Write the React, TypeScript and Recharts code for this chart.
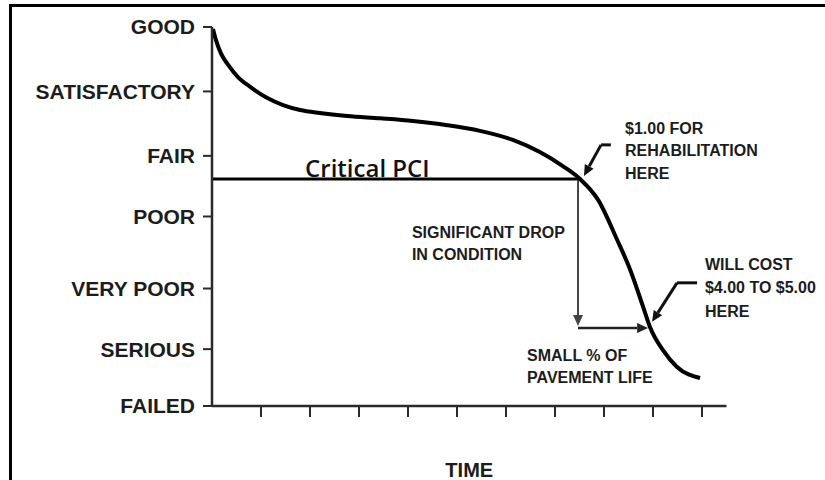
import React from 'react'
import { LineChart, Line, XAxis, YAxis, ReferenceLine, ReferenceDot } from 'recharts'

// curve: time (tick units) vs condition (0 = failed, 100 = good)
const time = [0.02, 0.08, 0.18, 0.33, 0.53, 0.78, 1.12, 1.45, 1.8, 2.2, 2.76, 3.43, 4.1, 4.8, 5.47, 6.14, 6.69, 7.16, 7.51, 7.88, 8.27, 8.53, 8.8, 8.94, 9.2, 9.49, 9.96]
const condition = [99.5, 96.6, 93.1, 90.0, 86.8, 84.2, 81.3, 79.4, 78.1, 77.3, 76.5, 75.9, 75.2, 74.1, 72.6, 70.2, 67.0, 63.3, 59.9, 54.4, 43.8, 36.1, 26.1, 20.8, 14.8, 10.3, 7.4]

const ratingTicks = [0, 15, 31, 50, 66, 83, 100]
const ratingLabels = ['FAILED', 'SERIOUS', 'VERY POOR', 'POOR', 'FAIR', 'SATISFACTORY', 'GOOD']
const timeTicks = [1, 2, 3, 4, 5, 6, 7, 8, 9, 10]

const criticalPci = 59.9
const criticalTime = 7.5

const data = time.map((t, i) => ({ t, v: condition[i] }))

const LABEL_FONT = "'Liberation Sans', Arial, Helvetica, sans-serif"
const INK = '#1c1c1c'

// annotation texts: anchor (data units) + lines
const notes = [
  { x: 8.43, y: 71.8, lines: ['$1.00 FOR', 'REHABILITATION', 'HERE'], lh: 22.5 },
  { x: 4.08, y: 44.3, lines: ['SIGNIFICANT DROP', 'IN CONDITION'], lh: 22 },
  { x: 10.06, y: 36.0, lines: ['WILL COST', '$4.00 TO $5.00', 'HERE'], lh: 23.5 },
  { x: 6.43, y: 11.9, lines: ['SMALL % OF', 'PAVEMENT LIFE'], lh: 22 },
]

// arrows: [from, to], head at "to"
const arrows = [
  { seg: [{ x: 8.14, y: 68.9 }, { x: 7.94, y: 68.9 }], head: false, w: 3, c: '#111' },
  { seg: [{ x: 7.94, y: 68.9 }, { x: 7.59, y: 60.7 }], head: true, w: 3, c: '#111' },
  { seg: [{ x: 7.47, y: 59.6 }, { x: 7.47, y: 21.1 }], head: true, w: 2, c: '#444' },
  { seg: [{ x: 7.47, y: 20.6 }, { x: 8.9, y: 20.6 }], head: true, w: 2.5, c: '#222' },
  { seg: [{ x: 9.9, y: 32.5 }, { x: 9.49, y: 32.5 }], head: false, w: 3, c: '#111' },
  { seg: [{ x: 9.49, y: 32.5 }, { x: 8.98, y: 22.2 }], head: true, w: 3, c: '#111' },
]

const arrowShape = (head: boolean, w: number, c: string) => (p: any) => {
  const { x1, y1, x2, y2 } = p
  const ang = Math.atan2(y2 - y1, x2 - x1)
  const len = 11
  const half = 5
  const bx = x2 - len * Math.cos(ang)
  const by = y2 - len * Math.sin(ang)
  const px = -Math.sin(ang) * half
  const py = Math.cos(ang) * half
  return (
    <g>
      <line x1={x1} y1={y1} x2={head ? bx : x2} y2={head ? by : y2} stroke={c} strokeWidth={w} />
      {head && <polygon points={`${x2},${y2} ${bx + px},${by + py} ${bx - px},${by - py}`} fill={c} />}
    </g>
  )
}

const noteShape = (lines: string[], lh: number) => (p: any) => (
  <text x={p.cx} y={p.cy} fill={INK} fontFamily={LABEL_FONT} fontWeight="bold" fontSize={16}>
    {lines.map((l, i) => (
      <tspan key={i} x={p.cx} dy={i === 0 ? 0 : lh}>{l}</tspan>
    ))}
  </text>
)

export default function App() {
  return (
    <div style={{ position: 'absolute', left: 0, top: 0, width: 825, height: 480, background: '#fff' }}>
      <div
        style={{
          position: 'absolute', left: 9, top: 4, width: 816, height: 476,
          borderTop: '3px solid #000', borderLeft: '3px solid #000', boxSizing: 'border-box',
        }}
      />
      <div style={{ position: 'absolute', left: 0, top: 0 }}>
        <LineChart width={825} height={480} data={data} margin={{ top: 27, right: 98.5, bottom: 0, left: 0 }}>
          <XAxis
            dataKey="t"
            type="number"
            domain={[0, 10.5]}
            ticks={timeTicks}
            tickFormatter={() => ''}
            tickSize={11}
            height={74}
            axisLine={{ stroke: '#2a2a2a', strokeWidth: 2.5 }}
            tickLine={{ stroke: '#2a2a2a', strokeWidth: 2 }}
            interval={0}
            label={{ value: 'TIME', position: 'insideBottom', offset: 3, fill: INK, fontSize: 20, fontWeight: 'bold', fontFamily: LABEL_FONT }}
          />
          <YAxis
            type="number"
            domain={[0, 100]}
            ticks={ratingTicks}
            width={212}
            tickSize={9}
            tickMargin={8}
            tickFormatter={(v: number) => ratingLabels[ratingTicks.indexOf(v)]}
            tick={{ fill: INK, fontSize: 21, fontWeight: 'bold', fontFamily: LABEL_FONT }}
            axisLine={{ stroke: '#2a2a2a', strokeWidth: 2.5 }}
            tickLine={{ stroke: '#2a2a2a', strokeWidth: 2 }}
            interval={0}
          />
          <ReferenceLine
            segment={[{ x: 0, y: criticalPci }, { x: criticalTime, y: criticalPci }]}
            stroke="#000"
            strokeWidth={3}
          />
          {arrows.map((a, i) => (
            <ReferenceLine key={`arr-${i}`} segment={a.seg} shape={arrowShape(a.head, a.w, a.c)} />
          ))}
          <Line
            type="monotone"
            dataKey="v"
            stroke="#000"
            strokeWidth={4}
            dot={false}
            isAnimationActive={false}
          />
          <ReferenceDot
            x={1.9}
            y={criticalPci + 0.4}
            r={0}
            shape={(p: any) => (
              <text x={p.cx} y={p.cy} fill="#111" fontFamily="'Open Sans', sans-serif" fontWeight={600} fontSize={24}>
                Critical PCI
              </text>
            )}
          />
          {notes.map((n, i) => (
            <ReferenceDot key={`note-${i}`} x={n.x} y={n.y} r={0} shape={noteShape(n.lines, n.lh)} />
          ))}
        </LineChart>
      </div>
    </div>
  )
}
